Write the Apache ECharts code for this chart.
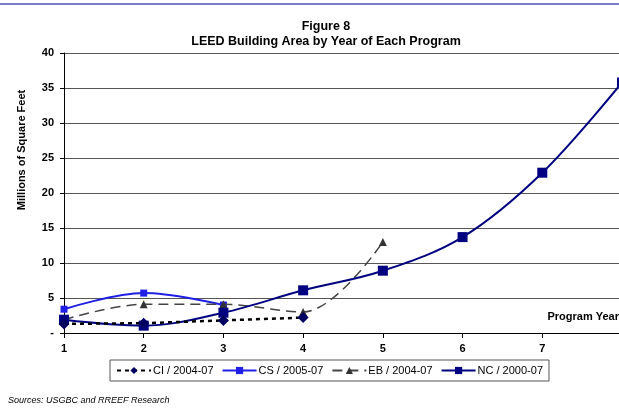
<!DOCTYPE html>
<html>
<head>
<meta charset="utf-8">
<script src="https://cdn.jsdelivr.net/npm/echarts@6/dist/echarts.min.js"></script>
<style>
  html, body { margin: 0; padding: 0; background: #fff; }
  #chart { width: 619px; height: 412px; }
</style>
</head>
<body>
<div id="chart"></div>
<script>
// program years and millions of sq ft per program
const years = [1, 2, 3, 4, 5, 6, 7, 8];
const ciValues = [1.3, 1.4, 1.8, 2.2];
const csValues = [3.4, 5.7, 4.0];
const ebValues = [1.9, 4.1, 4.1, 3.0, 13.0];
const ncValues = [1.9, 1.05, 2.9, 6.1, 8.9, 13.7, 22.9, 35.8];
const yTicks = [0, 5, 10, 15, 20, 25, 30, 35, 40];

function pairs(vals) {
  return vals.map((v, i) => [years[i], v]);
}

const chart = echarts.init(document.getElementById('chart'), null, { renderer: 'canvas' });

const font = 'Arial, "Liberation Sans", sans-serif';

chart.setOption({
  animation: false,
  textStyle: { fontFamily: font },
  title: {
    text: 'Figure 8\nLEED Building Area by Year of Each Program',
    left: 321,
    top: 14,
    textAlign: 'center',
    textStyle: { fontSize: 12.5, fontWeight: 'bold', color: '#000', lineHeight: 15, fontFamily: font }
  },
  legend: {
    left: 110,
    top: 360,
    height: 22,
    padding: [5, 6, 5, 6],
    borderColor: '#555',
    borderWidth: 1,
    itemWidth: 34,
    itemHeight: 9,
    itemGap: 8,
    textStyle: { fontSize: 11, color: '#000', fontFamily: font, padding: [0, 0, 0, -3] },
    data: ['CI / 2004-07', 'CS / 2005-07', 'EB / 2004-07', 'NC / 2000-07']
  },
  grid: { left: 64, top: 53, width: 558, height: 280, containLabel: false, outerBoundsMode: 'none' },
  xAxis: {
    type: 'value',
    min: 1,
    max: 8,
    interval: 1,
    axisLine: { lineStyle: { color: '#000', width: 1 } },
    axisTick: { show: true, length: 5, lineStyle: { color: '#000' } },
    axisLabel: { fontSize: 11, fontWeight: 'bold', color: '#000', margin: 10, fontFamily: font },
    splitLine: { show: false }
  },
  yAxis: {
    type: 'value',
    min: yTicks[0],
    max: yTicks[yTicks.length - 1],
    interval: 5,
    axisLine: { show: true, lineStyle: { color: '#000', width: 1 } },
    axisTick: { show: true, length: 4, lineStyle: { color: '#000' } },
    axisLabel: {
      fontSize: 11, fontWeight: 'bold', color: '#000', margin: 10, fontFamily: font,
      formatter: v => (v === 0 ? '-' : String(v))
    },
    splitLine: { show: true, lineStyle: { color: '#555', width: 1 } }
  },
  graphic: [
    { type: 'rect', shape: { x: 0, y: 3, width: 619, height: 2 }, style: { fill: '#7a7ac8' } },
    {
      type: 'text', x: 22, y: 150, rotation: Math.PI / 2,
      style: { text: 'Millions of Square Feet', font: 'bold 11px ' + font, fill: '#000', textAlign: 'center', textVerticalAlign: 'middle' }
    },
    {
      type: 'text', x: 619, y: 317,
      style: { text: 'Program Year', font: 'bold 11px ' + font, fill: '#000', textAlign: 'right', textVerticalAlign: 'middle' }
    },
    {
      type: 'text', x: 8, y: 400,
      style: { text: 'Sources: USGBC and RREEF Research', font: 'italic 9px ' + font, fill: '#000', textVerticalAlign: 'middle' }
    }
  ],
  series: [
    {
      name: 'NC / 2000-07',
      type: 'line',
      smooth: 0.35,
      data: pairs(ncValues),
      symbol: 'rect',
      symbolSize: 10,
      itemStyle: { color: '#000080' },
      lineStyle: { color: '#000080', width: 2 },
      z: 4
    },
    {
      name: 'EB / 2004-07',
      type: 'line',
      smooth: 0.35,
      data: pairs(ebValues),
      symbol: 'triangle',
      symbolSize: 8,
      itemStyle: { color: '#333' },
      lineStyle: { color: '#444', width: 1.5, type: [10, 6] },
      z: 3
    },
    {
      name: 'CS / 2005-07',
      type: 'line',
      smooth: 0.35,
      data: pairs(csValues),
      symbol: 'rect',
      symbolSize: 7,
      itemStyle: { color: '#1f1fe6' },
      lineStyle: { color: '#1f1fe6', width: 2 },
      z: 2
    },
    {
      name: 'CI / 2004-07',
      type: 'line',
      data: pairs(ciValues),
      symbol: 'diamond',
      symbolSize: 11,
      itemStyle: { color: '#000060' },
      lineStyle: { color: '#000', width: 2.5, type: [4, 4] },
      z: 5
    }
  ]
});
</script>
</body>
</html>
